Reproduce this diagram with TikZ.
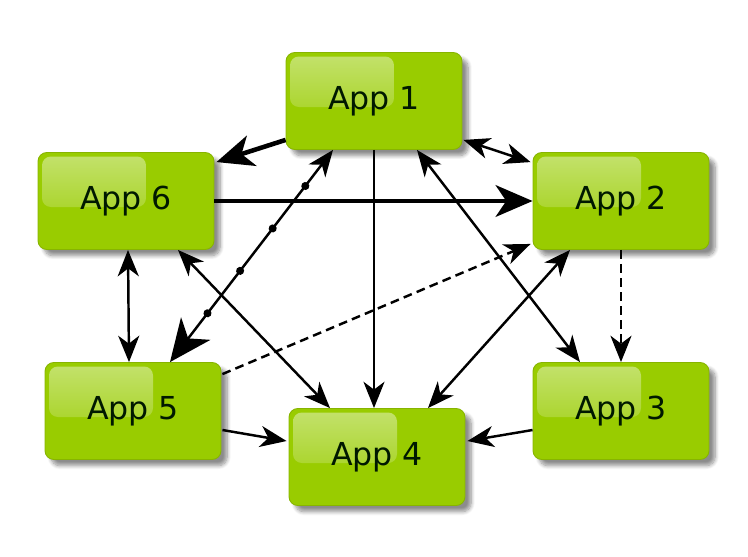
\documentclass[tikz,border=0pt]{standalone}
\usepackage{fontspec}
\setmainfont{DejaVu Sans}
\usetikzlibrary{arrows.meta,shadows.blur,decorations.markings}
\definecolor{appgreen}{RGB}{153,204,0}
\definecolor{applight}{RGB}{196,226,110}

\begin{document}
\begin{tikzpicture}[x=0.02cm, y=-0.02cm,
  app/.style={rectangle, rounded corners=5pt, minimum width=3.52cm, minimum height=1.94cm,
    fill=appgreen, draw=appgreen!88!black, line width=0.5pt, text=black!90!green,
    font=\fontsize{18}{21}\selectfont,
    blur shadow={shadow xshift=3.5pt, shadow yshift=-3.5pt, shadow opacity=45, shadow blur steps=8},
    path picture={\shade[top color=applight, bottom color=appgreen, rounded corners=5pt]
      ([shift={(4,4)}]path picture bounding box.north west) rectangle
      ([shift={(20,6)}]path picture bounding box.center);}},
  link/.style={line width=1.4pt, -{Stealth[length=15pt, width=12pt, inset=4.5pt]}},
  twoway/.style={line width=1.4pt, {Stealth[length=15pt, width=12pt, inset=4.5pt]}-{Stealth[length=15pt, width=12pt, inset=4.5pt]}},
  boldlink/.style={line width=2.6pt, -{Stealth[length=21pt, width=18pt, inset=6pt]}},
  dashlink/.style={link, dash pattern=on 5pt off 3pt},
  dotlink/.style={line width=1.4pt,
    {Stealth[length=15pt, width=12pt, inset=4.5pt]}-{Stealth[length=24pt, width=21pt, inset=7pt]},
    postaction={decorate},
    decoration={markings,
      mark=at position 0.17 with {\fill circle (2.3pt);},
      mark=at position 0.37 with {\fill circle (2.3pt);},
      mark=at position 0.57 with {\fill circle (2.3pt);},
      mark=at position 0.77 with {\fill circle (2.3pt);}}}]
  \useasboundingbox (0,0) rectangle (748,556);

  \node[app] (1) at (374,101) {App 1};
  \node[app] (6) at (126,201) {App 6};
  \node[app] (2) at (621,201) {App 2};
  \node[app] (5) at (133,411) {App 5};
  \node[app] (3) at (621,411) {App 3};
  \node[app] (4) at (377,457) {App 4};

  \draw[boldlink] ([shift={(0,-10)}]1.south west) -- ([shift={(2,10)}]6.north east);
  \draw[twoway] ([shift={(1,-10)}]1.south east) -- ([shift={(-2,10)}]2.north west);
  \draw[boldlink] (6.east) -- (2.west);
  \draw[dotlink] ([shift={(-41,0)}]1.south) -- ([shift={(37,0)}]5.north);
  \draw[link, line width=1.1pt] (1.south) -- (1.south |- 4.north);
  \draw[twoway] ([shift={(43,0)}]1.south) -- ([shift={(-41,0)}]3.north);
  \draw[twoway] ([shift={(2,0)}]6.south) -- ([shift={(-4,0)}]5.north);
  \draw[twoway] ([shift={(52,0)}]6.south) -- ([shift={(-47,0)}]4.north);
  \draw[dashlink] ([shift={(1,12)}]5.north east) -- ([shift={(-2,-6)}]2.south west);
  \draw[twoway] ([shift={(-51,0)}]2.south) -- ([shift={(51,0)}]4.north);
  \draw[dashlink] (2.south) -- (3.north);
  \draw[link] ([shift={(1,19)}]5.east) -- ([shift={(-2,-16)}]4.west);
  \draw[link] ([shift={(0,19)}]3.west) -- ([shift={(2,-16)}]4.east);
\end{tikzpicture}
\end{document}
